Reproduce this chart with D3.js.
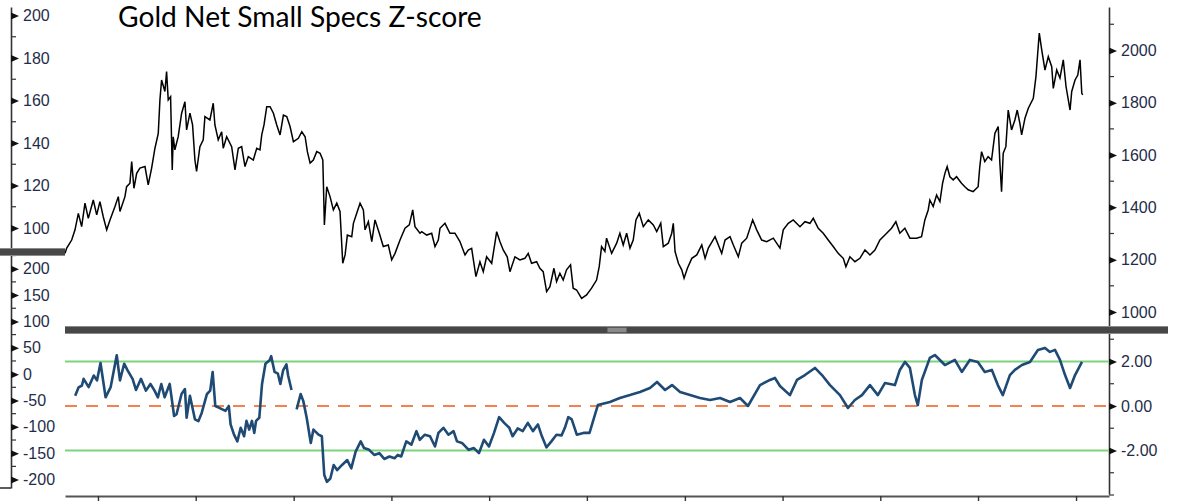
<!DOCTYPE html>
<html>
<head>
<meta charset="utf-8">
<script src="https://cdn.jsdelivr.net/npm/d3@7"></script>
<style>
  body { margin: 0; background: #fff; }
  svg { display: block; }
  .tick text { font-family: "Liberation Sans", sans-serif; font-size: 16px; fill: #1f2d4a; }
</style>
</head>
<body>
<div id="chart"></div>
<script>
var svgWidth = 1187;
var svgHeight = 501;

// gold price (right axis of top pane), [decimal year, price]
var goldSeries = [
  [2010.663, 1224], [2010.680, 1244], [2010.731, 1275], [2010.765, 1314], [2010.799, 1377],
  [2010.833, 1326], [2010.867, 1416], [2010.901, 1358], [2010.952, 1428], [2010.987, 1371],
  [2011.020, 1422], [2011.054, 1364], [2011.089, 1314], [2011.123, 1352], [2011.174, 1403],
  [2011.208, 1441], [2011.225, 1384], [2011.276, 1441], [2011.293, 1479], [2011.327, 1492],
  [2011.345, 1575], [2011.368, 1473], [2011.396, 1530], [2011.429, 1550], [2011.481, 1556],
  [2011.514, 1486], [2011.549, 1550], [2011.583, 1626], [2011.617, 1683], [2011.634, 1811],
  [2011.651, 1887], [2011.685, 1843], [2011.702, 1919], [2011.719, 1811], [2011.743, 1823],
  [2011.760, 1543], [2011.770, 1670], [2011.787, 1620], [2011.821, 1670], [2011.856, 1760],
  [2011.890, 1804], [2011.907, 1696], [2011.941, 1760], [2011.968, 1715], [2011.992, 1581],
  [2012.009, 1537], [2012.043, 1632], [2012.077, 1658], [2012.094, 1747], [2012.145, 1734],
  [2012.179, 1798], [2012.196, 1715], [2012.230, 1658], [2012.265, 1689], [2012.281, 1626],
  [2012.316, 1670], [2012.367, 1632], [2012.401, 1543], [2012.435, 1626], [2012.469, 1632],
  [2012.503, 1556], [2012.537, 1594], [2012.588, 1581], [2012.623, 1626], [2012.656, 1620],
  [2012.674, 1677], [2012.697, 1715], [2012.725, 1785], [2012.759, 1785], [2012.793, 1760],
  [2012.827, 1715], [2012.861, 1677], [2012.895, 1753], [2012.929, 1747], [2012.963, 1709],
  [2012.997, 1651], [2013.048, 1664], [2013.083, 1689], [2013.117, 1670], [2013.140, 1613],
  [2013.168, 1569], [2013.201, 1581], [2013.236, 1613], [2013.270, 1607], [2013.298, 1581],
  [2013.304, 1492], [2013.314, 1333], [2013.338, 1479], [2013.372, 1441], [2013.406, 1390],
  [2013.441, 1416], [2013.474, 1384], [2013.502, 1186], [2013.526, 1218], [2013.549, 1294],
  [2013.594, 1288], [2013.611, 1339], [2013.645, 1377], [2013.679, 1416], [2013.713, 1390],
  [2013.730, 1314], [2013.764, 1345], [2013.799, 1269], [2013.832, 1352], [2013.876, 1301],
  [2013.917, 1250], [2013.968, 1256], [2014.003, 1199], [2014.037, 1224], [2014.088, 1275],
  [2014.139, 1320], [2014.183, 1333], [2014.218, 1390], [2014.241, 1326], [2014.292, 1301],
  [2014.310, 1307], [2014.361, 1294], [2014.412, 1301], [2014.446, 1250], [2014.480, 1275],
  [2014.497, 1320], [2014.548, 1339], [2014.599, 1301], [2014.650, 1301], [2014.701, 1269],
  [2014.753, 1218], [2014.786, 1237], [2014.821, 1243], [2014.865, 1135], [2014.906, 1192],
  [2014.940, 1154], [2014.974, 1211], [2015.026, 1186], [2015.059, 1263], [2015.077, 1307],
  [2015.110, 1269], [2015.144, 1237], [2015.185, 1211], [2015.213, 1154], [2015.264, 1211],
  [2015.315, 1199], [2015.366, 1205], [2015.400, 1224], [2015.434, 1186], [2015.486, 1192],
  [2015.519, 1167], [2015.553, 1154], [2015.588, 1078], [2015.622, 1097], [2015.663, 1167],
  [2015.690, 1116], [2015.724, 1148], [2015.758, 1122], [2015.792, 1161], [2015.833, 1180],
  [2015.860, 1091], [2015.895, 1084], [2015.946, 1052], [2015.997, 1065], [2016.048, 1091],
  [2016.099, 1122], [2016.126, 1173], [2016.150, 1250], [2016.184, 1231], [2016.201, 1282],
  [2016.253, 1224], [2016.304, 1263], [2016.337, 1301], [2016.371, 1256], [2016.406, 1301],
  [2016.440, 1244], [2016.473, 1275], [2016.501, 1352], [2016.535, 1377], [2016.576, 1326],
  [2016.627, 1352], [2016.678, 1333], [2016.713, 1307], [2016.754, 1339], [2016.780, 1250],
  [2016.831, 1263], [2016.866, 1301], [2016.882, 1339], [2016.900, 1231], [2016.934, 1186],
  [2016.968, 1161], [2016.992, 1129], [2017.026, 1167], [2017.071, 1205], [2017.122, 1218],
  [2017.173, 1256], [2017.207, 1205], [2017.240, 1244], [2017.309, 1288], [2017.377, 1224],
  [2017.411, 1275], [2017.462, 1288], [2017.496, 1256], [2017.547, 1211], [2017.582, 1263],
  [2017.633, 1282], [2017.694, 1352], [2017.735, 1314], [2017.786, 1275], [2017.837, 1269],
  [2017.905, 1282], [2017.973, 1244], [2018.007, 1314], [2018.058, 1339], [2018.109, 1352],
  [2018.178, 1326], [2018.229, 1345], [2018.280, 1339], [2018.314, 1358], [2018.365, 1320],
  [2018.416, 1301], [2018.467, 1275], [2018.518, 1250], [2018.569, 1224], [2018.621, 1205],
  [2018.648, 1173], [2018.689, 1211], [2018.740, 1192], [2018.791, 1205], [2018.843, 1237],
  [2018.894, 1218], [2018.945, 1237], [2018.996, 1275], [2019.047, 1294], [2019.115, 1320],
  [2019.159, 1345], [2019.200, 1301], [2019.251, 1320], [2019.303, 1282], [2019.371, 1282],
  [2019.422, 1288], [2019.456, 1352], [2019.490, 1390], [2019.507, 1428], [2019.541, 1403],
  [2019.576, 1447], [2019.610, 1422], [2019.637, 1492], [2019.661, 1530], [2019.684, 1556],
  [2019.712, 1517], [2019.746, 1505], [2019.780, 1517], [2019.831, 1492], [2019.865, 1479],
  [2019.899, 1467], [2019.950, 1460], [2020.001, 1479], [2020.018, 1556], [2020.036, 1613],
  [2020.069, 1575], [2020.103, 1594], [2020.138, 1581], [2020.172, 1683], [2020.206, 1709],
  [2020.223, 1569], [2020.240, 1460], [2020.257, 1607], [2020.284, 1632], [2020.308, 1772],
  [2020.342, 1696], [2020.376, 1734], [2020.400, 1772], [2020.427, 1721], [2020.445, 1677],
  [2020.479, 1741], [2020.513, 1779], [2020.564, 1817], [2020.591, 1900], [2020.609, 1989],
  [2020.625, 2066], [2020.650, 2002], [2020.683, 1925], [2020.717, 1976], [2020.752, 1938],
  [2020.768, 1855], [2020.803, 1925], [2020.836, 1894], [2020.870, 1964], [2020.898, 1862],
  [2020.939, 1772], [2020.956, 1843], [2020.990, 1887], [2021.018, 1906], [2021.041, 1964],
  [2021.059, 1836], [2021.069, 1830]
];

// net small specs z-score (bottom pane), null = gap in the data
var zSeries = [
  [2010.767, 0.46], [2010.802, 0.84], [2010.836, 0.92], [2010.853, 1.22], [2010.905, 0.85],
  [2010.957, 1.37], [2010.990, 1.15], [2011.026, 1.93], [2011.078, 0.39], [2011.130, 0.85],
  [2011.192, 2.28], [2011.225, 1.15], [2011.268, 1.90], [2011.303, 1.60], [2011.354, 1.22],
  [2011.389, 0.72], [2011.440, 1.22], [2011.491, 0.69], [2011.537, 0.99], [2011.579, 0.69],
  [2011.613, 0.39], [2011.648, 0.99], [2011.682, 0.39], [2011.734, 0.99], [2011.779, -0.45],
  [2011.804, -0.37], [2011.855, 0.54], [2011.890, 0.76], [2011.907, -0.53], [2011.941, 0.46],
  [2011.992, -0.60], [2012.028, -0.68], [2012.062, -0.30], [2012.115, 0.54], [2012.148, 0.69],
  [2012.173, 1.53], [2012.200, 0.00], [2012.235, -0.07], [2012.304, -0.22], [2012.338, 0.00],
  [2012.356, -0.83], [2012.391, -1.29], [2012.425, -1.59], [2012.459, -0.98], [2012.494, -1.36],
  [2012.518, -0.67], [2012.546, -1.06], [2012.574, -0.67], [2012.598, -1.21], [2012.616, -0.67],
  [2012.649, -0.53], [2012.677, 0.99], [2012.712, 1.90], [2012.754, 2.06], [2012.770, 2.24],
  [2012.805, 1.53], [2012.839, 1.45], [2012.864, 0.99], [2012.892, 1.60], [2012.926, 1.87],
  [2012.943, 1.37], [2012.978, 0.72], [2013.004, null],
  [2013.030, -0.15], [2013.071, 0.54], [2013.098, 0.23], [2013.133, -0.53], [2013.175, -1.66],
  [2013.202, -1.06], [2013.254, -1.29], [2013.288, -1.36], [2013.313, -3.10], [2013.340, -3.41],
  [2013.375, -3.26], [2013.409, -2.65], [2013.444, -2.88], [2013.495, -2.65], [2013.548, -2.43],
  [2013.589, -2.80], [2013.634, -2.05], [2013.686, -1.59], [2013.720, -1.89], [2013.772, -1.97],
  [2013.824, -2.20], [2013.876, -2.12], [2013.927, -2.38], [2013.980, -2.27], [2014.032, -2.35],
  [2014.065, -2.20], [2014.100, -2.27], [2014.152, -1.59], [2014.204, -1.74], [2014.256, -1.13],
  [2014.290, -1.52], [2014.342, -1.29], [2014.395, -1.36], [2014.446, -1.82], [2014.481, -1.21],
  [2014.532, -0.98], [2014.584, -1.29], [2014.636, -1.13], [2014.671, -1.59], [2014.722, -1.66],
  [2014.791, -1.97], [2014.844, -1.89], [2014.896, -2.12], [2014.947, -1.52], [2014.998, -1.82],
  [2015.050, -1.21], [2015.102, -0.50], [2015.154, -0.76], [2015.206, -0.98], [2015.240, -1.36],
  [2015.292, -1.01], [2015.344, -1.13], [2015.396, -0.76], [2015.448, -1.13], [2015.499, -0.83],
  [2015.534, -1.29], [2015.586, -1.86], [2015.637, -1.59], [2015.689, -1.29], [2015.741, -1.32],
  [2015.775, -0.98], [2015.810, -0.50], [2015.845, -0.60], [2015.897, -1.29], [2015.965, -1.21],
  [2016.027, -1.21], [2016.112, 0.04], [2016.235, 0.18], [2016.337, 0.36], [2016.440, 0.49],
  [2016.542, 0.63], [2016.644, 0.81], [2016.716, 1.08], [2016.798, 0.72], [2016.869, 0.94],
  [2016.951, 0.63], [2017.053, 0.49], [2017.155, 0.36], [2017.258, 0.27], [2017.360, 0.36],
  [2017.462, 0.18], [2017.564, 0.36], [2017.646, 0.00], [2017.769, 0.94], [2017.871, 1.17],
  [2017.922, 1.26], [2017.973, 0.90], [2018.075, 0.49], [2018.147, 1.17], [2018.229, 1.39],
  [2018.331, 1.71], [2018.403, 1.39], [2018.485, 0.94], [2018.587, 0.49], [2018.669, -0.09],
  [2018.740, 0.27], [2018.812, 0.49], [2018.894, 0.94], [2018.975, 0.49], [2019.047, 1.03],
  [2019.149, 0.94], [2019.200, 1.62], [2019.252, 1.98], [2019.303, 1.71], [2019.354, 0.49],
  [2019.384, 0.04], [2019.425, 1.17], [2019.507, 2.16], [2019.558, 2.29], [2019.661, 1.84],
  [2019.763, 2.07], [2019.834, 1.53], [2019.916, 2.07], [2019.998, 1.98], [2020.069, 1.53],
  [2020.141, 1.62], [2020.202, 0.94], [2020.253, 0.49], [2020.325, 1.39], [2020.376, 1.62],
  [2020.448, 1.84], [2020.530, 1.98], [2020.611, 2.52], [2020.683, 2.61], [2020.734, 2.43],
  [2020.785, 2.52], [2020.836, 2.07], [2020.888, 1.39], [2020.939, 0.81], [2020.990, 1.39],
  [2021.061, 1.98]
];

var zBands = [2, -2];
var zMean = 0;

var goldTicks = [1000, 1200, 1400, 1600, 1800, 2000];
var goldMinor = [1100, 1300, 1500, 1700, 1900, 2100];
var topLeftTicks = [100, 120, 140, 160, 180, 200];
var topLeftMinor = [90, 110, 130, 150, 170, 190];
var lowLeftTicks = [-200, -150, -100, -50, 0, 50, 100, 150, 200];
var lowLeftMinor = [-175, -125, -75, -25, 25, 75, 125, 175, 225];
var zTicks = [-2, 0, 2];
var zMinor = [-4, -3, -1, 1, 3];

var title = "Gold Net Small Specs Z-score";

function toDate(y) {
  var yr = Math.floor(y);
  var start = Date.UTC(yr, 0, 1);
  var end = Date.UTC(yr + 1, 0, 1);
  return new Date(start + (y - yr) * (end - start));
}

var svg = d3.select("#chart")
  .append("svg")
  .attr("width", svgWidth)
  .attr("height", svgHeight);

var plotLeft = 65;
var plotRight = 1109;

var xTime = d3.scaleUtc()
  .domain([toDate(2010.6626), toDate(2021.3374)])
  .range([plotLeft, plotRight]);

var yGold = d3.scaleLinear().domain([931, 2166]).range([330, 7]);
var yTopLeft = d3.scaleLinear().domain([88.7, 204]).range([252, 7]);
var yLowLeft = d3.scaleLinear().domain([-216, 226]).range([488, 255]);
var yZ = d3.scaleLinear().domain([-3.955, 3.28]).range([494, 333]);

function hyphen(f) {
  return d => f(d).replace("\u2212", "-");
}

function drawAxis(g, scale, majors, minors, fmt) {
  g.call(d3.axisRight(scale)
    .tickValues(majors)
    .tickSize(0)
    .tickSizeOuter(0)
    .tickPadding(12)
    .tickFormat(fmt));

  g.select(".domain")
    .attr("stroke", "#333")
    .attr("stroke-width", 1.6);

  g.selectAll(".tick")
    .append("path")
    .attr("d", "M0,-3.5L8,0L0,3.5Z")
    .attr("fill", "#111");

  g.selectAll(".minor")
    .data(minors)
    .enter()
    .append("line")
    .attr("class", "minor")
    .attr("x1", 0)
    .attr("x2", 5)
    .attr("y1", d => scale(d))
    .attr("y2", d => scale(d))
    .attr("stroke", "#333")
    .attr("stroke-width", 1.2);
}

// left axes
drawAxis(svg.append("g").attr("transform", "translate(11,0)"),
  yTopLeft, topLeftTicks, topLeftMinor, d3.format("d"));
drawAxis(svg.append("g").attr("transform", "translate(11,0)"),
  yLowLeft, lowLeftTicks, lowLeftMinor, hyphen(d3.format("d")));

// bottom-left corner of the left axis
svg.append("line")
  .attr("x1", 0).attr("x2", 11)
  .attr("y1", 488).attr("y2", 488)
  .attr("stroke", "#333")
  .attr("stroke-width", 1.6);

// right axes
drawAxis(svg.append("g").attr("transform", `translate(${plotRight},0)`),
  yGold, goldTicks, goldMinor, d3.format("d"));
drawAxis(svg.append("g").attr("transform", `translate(${plotRight},0)`),
  yZ, zTicks, zMinor, hyphen(d3.format(".2f")));

// bottom time axis
var xAxis = svg.append("g")
  .attr("transform", "translate(0,496)")
  .call(d3.axisBottom(xTime)
    .ticks(d3.utcYear.every(1))
    .tickSize(6)
    .tickSizeOuter(0)
    .tickFormat(""));

xAxis.select(".domain")
  .attr("stroke", "#555")
  .attr("stroke-width", 2);
xAxis.selectAll(".tick line")
  .attr("stroke", "#333")
  .attr("stroke-width", 1.4);

// reference lines in the z-score pane
svg.selectAll(".band")
  .data(zBands)
  .enter()
  .append("line")
  .attr("class", "band")
  .attr("x1", plotLeft)
  .attr("x2", plotRight)
  .attr("y1", d => yZ(d))
  .attr("y2", d => yZ(d))
  .attr("stroke", "#7ed47e")
  .attr("stroke-width", 2);

svg.append("line")
  .attr("x1", plotLeft)
  .attr("x2", plotRight)
  .attr("y1", yZ(zMean))
  .attr("y2", yZ(zMean))
  .attr("stroke", "#f5814f")
  .attr("stroke-width", 2)
  .attr("stroke-dasharray", "12,9");

// z-score line
var zLine = d3.line()
  .defined(d => d[1] !== null)
  .x(d => xTime(toDate(d[0])))
  .y(d => yZ(d[1]));

svg.append("path")
  .datum(zSeries)
  .attr("fill", "none")
  .attr("stroke", "#1f4a74")
  .attr("stroke-width", 2.6)
  .attr("stroke-linejoin", "round")
  .attr("d", zLine);

// gold line
var goldLine = d3.line()
  .x(d => xTime(toDate(d[0])))
  .y(d => yGold(d[1]));

svg.append("path")
  .datum(goldSeries)
  .attr("fill", "none")
  .attr("stroke", "#000")
  .attr("stroke-width", 1.5)
  .attr("d", goldLine);

// pane splitters
function splitter(x1, x2, y) {
  svg.append("rect")
    .attr("x", x1).attr("y", y - 3)
    .attr("width", x2 - x1).attr("height", 6)
    .attr("fill", "#474747");
  svg.append("line")
    .attr("x1", x1).attr("x2", x2)
    .attr("y1", y - 3.5).attr("y2", y - 3.5)
    .attr("stroke", "#8a8a8a");
  svg.append("line")
    .attr("x1", x1).attr("x2", x2)
    .attr("y1", y + 3.5).attr("y2", y + 3.5)
    .attr("stroke", "#8a8a8a");
}

splitter(0, plotLeft, 252);
splitter(plotLeft, 1168, 330);

svg.append("rect")
  .attr("x", 607).attr("y", 327.5)
  .attr("width", 20).attr("height", 5)
  .attr("fill", "#6a6a6a");
svg.append("line")
  .attr("x1", 608).attr("x2", 626)
  .attr("y1", 329).attr("y2", 329)
  .attr("stroke", "#aaa");
svg.append("line")
  .attr("x1", 608).attr("x2", 626)
  .attr("y1", 331).attr("y2", 331)
  .attr("stroke", "#aaa");

svg.append("text")
  .attr("x", 118)
  .attr("y", 27)
  .attr("font-family", "Lato, sans-serif")
  .attr("font-size", 28.2)
  .attr("fill", "#000")
  .text(title);
</script>
</body>
</html>
